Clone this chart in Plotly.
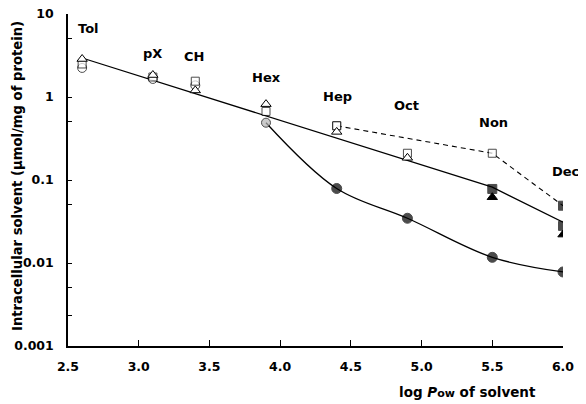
import math
import plotly.graph_objects as go

# ---- data ----
solvents = ["Tol", "pX", "CH", "Hex", "Hep", "Oct", "Non", "Dec"]
log_pow = [2.6, 3.1, 3.4, 3.9, 4.4, 4.9, 5.5, 6.0]

triangle_vals = [2.87, 1.84, 1.20, 0.82, 0.38, 0.185, 0.062, 0.022]
square_vals = [2.50, 1.74, 1.55, 0.67, 0.45, 0.21, 0.078, 0.028]
circle_vals = [2.24, 1.65, 1.38, 0.49, 0.079, 0.0346, 0.0117, 0.0078]

dashed_x = [4.4, 5.5, 6.0]
dashed_vals = [0.45, 0.21, 0.049]

solid_x = [2.6, 5.5, 6.0]
solid_vals = [2.95, 0.082, 0.031]

y_tick_vals = [10, 1, 0.1, 0.01, 0.001]
y_tick_text = ["10", "1", "0.1", "0.01", "0.001"]
y_minor_vals = [5, 0.5, 0.05, 0.005, 0.0023]

# label anchor positions (x in log Pow units, y as log10 of value) and pixel nudges
label_x = [2.648, 3.10, 3.39, 3.907, 4.402, 4.89, 5.512, 6.0]
label_xshift = [0, 0, 0, 0, 0, 0, 0, 2]
label_logy = [0.831, 0.530, 0.482, 0.241, 0.012, -0.108, -0.313, -0.892]

FONT = "DejaVu Sans, Verdana, sans-serif"

tri_colors = ["white"] * 6 + ["black"] * 2
sq_colors = ["white"] * 6 + ["black"] * 2
circ_colors = ["white"] * 3 + ["#b4b4b4"] + ["black"] * 4
circ_sizes = [9] * 4 + [10] * 4
sq_sizes = [8] * 6 + [9] * 2

fig = go.Figure()

# straight line through the upper groups
fig.add_trace(go.Scatter(x=solid_x, y=solid_vals, mode="lines",
                         line=dict(color="black", width=1.3), hoverinfo="skip"))
# smooth curve through circles from Hex on
fig.add_trace(go.Scatter(x=log_pow[3:], y=circle_vals[3:], mode="lines",
                         line=dict(color="black", width=1.3, shape="spline", smoothing=1.0),
                         hoverinfo="skip"))
# dashed line
fig.add_trace(go.Scatter(x=dashed_x, y=dashed_vals, mode="lines+markers",
                         line=dict(color="black", width=1.1, dash="5px,4px"),
                         marker=dict(symbol="square", size=[8, 8, 9],
                                     color=["white", "white", "black"],
                                     line=dict(color="black", width=1))))

fig.add_trace(go.Scatter(x=log_pow, y=circle_vals, mode="markers",
                         marker=dict(symbol="circle", size=circ_sizes, color=circ_colors,
                                     line=dict(color="black", width=1))))
fig.add_trace(go.Scatter(x=log_pow, y=square_vals, mode="markers",
                         marker=dict(symbol="square", size=sq_sizes, color=sq_colors,
                                     line=dict(color="black", width=1))))
fig.add_trace(go.Scatter(x=log_pow, y=triangle_vals, mode="markers",
                         marker=dict(symbol="triangle-up", size=9, color=tri_colors,
                                     line=dict(color="black", width=1))))

for name, lx, sx, ly in zip(solvents, label_x, label_xshift, label_logy):
    fig.add_annotation(x=lx, y=ly, xref="x", yref="y", text=name, showarrow=False,
                       xshift=sx, xanchor="center", yanchor="middle",
                       font=dict(family=FONT, size=13, color="black", weight="bold"))

fig.add_annotation(x=-0.103, y=0.512, xref="paper", yref="paper",
                   text="Intracellular solvent (µmol/mg of protein)", textangle=-90,
                   showarrow=False, xanchor="center", yanchor="middle",
                   font=dict(family=FONT, size=13.2, color="black", weight="bold"))
fig.add_annotation(x=0.808, y=-0.1386, xref="paper", yref="paper",
                   text="log <i>P</i><span style='font-size:11px'>ow</span> of solvent",
                   showarrow=False, xanchor="center", yanchor="middle",
                   font=dict(family=FONT, size=13.5, color="black", weight="bold"))

fig.update_layout(
    width=578, height=396,
    margin=dict(l=60, r=23, t=6, b=58, pad=0),
    paper_bgcolor="white", plot_bgcolor="white",
    showlegend=False,
    xaxis=dict(range=[2.5, 6.0], tickmode="linear", tick0=2.5, dtick=0.5,
               tickformat=".1f", showgrid=False, zeroline=False, automargin=False,
               ticklabeloverflow="allow",
               showline=True, linecolor="black", linewidth=1.5,
               ticks="inside", ticklen=6, tickwidth=1.3, tickcolor="black",
               ticklabelstandoff=8,
               tickfont=dict(family=FONT, size=12.5, color="black", weight="bold")),
    yaxis=dict(type="log", range=[-3, 1], tickmode="array",
               tickvals=y_tick_vals, ticktext=y_tick_text,
               showgrid=False, zeroline=False, automargin=False,
               ticklabeloverflow="allow",
               showline=True, linecolor="black", linewidth=1.5,
               ticks="inside", ticklen=4, tickwidth=1.2, tickcolor="black",
               ticklabelstandoff=10,
               tickfont=dict(family=FONT, size=12.5, color="black", weight="bold"),
               minor=dict(tickmode="array", tickvals=y_minor_vals, ticks="inside",
                          ticklen=4, tickwidth=1.2, tickcolor="black", showgrid=False)),
)

fig.write_html("out.html")
